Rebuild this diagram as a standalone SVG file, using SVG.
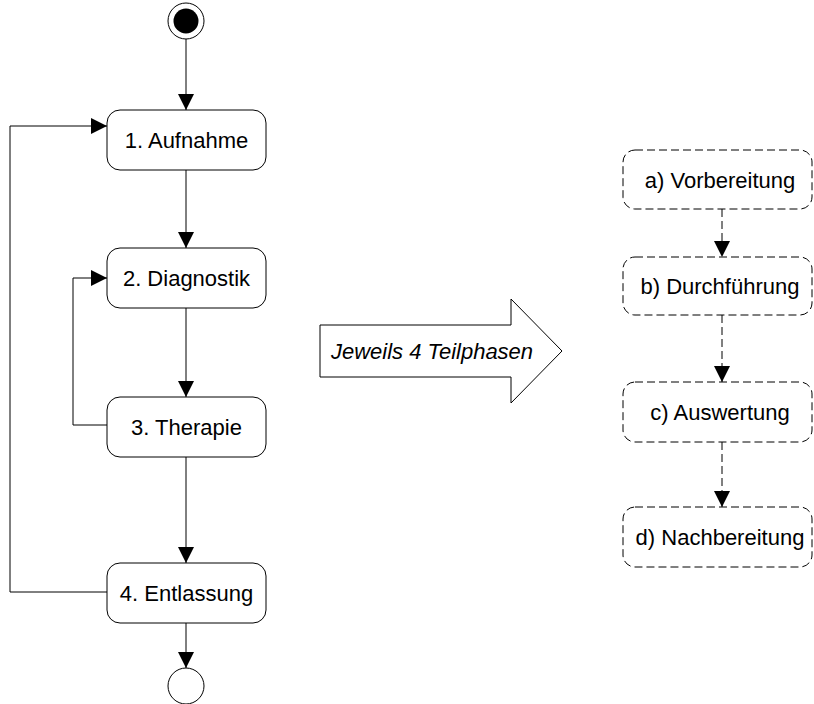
<svg xmlns="http://www.w3.org/2000/svg" width="814" height="704" viewBox="0 0 814 704">
  <defs>
    <marker id="arrow" viewBox="0 0 16 16" refX="16" refY="8" markerWidth="16" markerHeight="16" markerUnits="userSpaceOnUse" orient="auto">
      <path d="M0,0 L16,8 L0,16 Z" fill="#000"/>
    </marker>
    <style>
      .node { fill: #fff; stroke: #000; stroke-width: 1; }
      .phase { fill: #fff; stroke: #000; stroke-width: 1; stroke-dasharray: 8 4; }
      .label { font-family: "Liberation Sans", Arial, sans-serif; font-size: 22px; fill: #000; text-anchor: middle; }
      .edge { fill: none; stroke: #000; stroke-width: 1; marker-end: url(#arrow); }
      .dashed { stroke-dasharray: 8 4; }
    </style>
  </defs>
  <rect width="814" height="704" fill="#fff"/>

  <g id="connectors">
    <path class="edge" d="M186,39 V110"/>
    <path class="edge" d="M186,170 V248"/>
    <path class="edge" d="M186,308 V397"/>
    <path class="edge" d="M186,457 V563"/>
    <path class="edge" d="M186,623 V668"/>
    <path class="edge" d="M107,592 H10 V126 H107"/>
    <path class="edge" d="M107,425 H73 V278 H107"/>
    <path class="edge dashed" d="M722,209 V257"/>
    <path class="edge dashed" d="M722,315 V382"/>
    <path class="edge dashed" d="M722,442 V507"/>
  </g>

  <g id="start">
    <circle cx="186" cy="21" r="18" fill="#fff" stroke="#000"/>
    <circle cx="186" cy="21" r="12.5" fill="#000"/>
  </g>

  <g id="aufnahme">
    <rect class="node" x="107" y="110" width="159" height="60" rx="13"/>
    <text class="label" x="186.5" y="148">1. Aufnahme</text>
  </g>
  <g id="diagnostik">
    <rect class="node" x="107" y="248" width="159" height="60" rx="13"/>
    <text class="label" x="186.5" y="286">2. Diagnostik</text>
  </g>
  <g id="therapie">
    <rect class="node" x="107" y="397" width="159" height="60" rx="13"/>
    <text class="label" x="186.5" y="435">3. Therapie</text>
  </g>
  <g id="entlassung">
    <rect class="node" x="107" y="563" width="159" height="60" rx="13"/>
    <text class="label" x="186.5" y="601">4. Entlassung</text>
  </g>

  <g id="end">
    <circle cx="186" cy="686" r="18" fill="#fff" stroke="#000"/>
  </g>

  <g id="teilphasen">
    <path d="M320,325 H511 V299 L562,351 L511,403 V377 H320 Z" fill="#fff" stroke="#000"/>
    <text class="label" x="432" y="359" font-style="italic">Jeweils 4 Teilphasen</text>
  </g>

  <g id="vorbereitung">
    <rect class="phase" x="623" y="150" width="189" height="59" rx="12"/>
    <text class="label" x="720" y="188">a) Vorbereitung</text>
  </g>
  <g id="durchfuehrung">
    <rect class="phase" x="623" y="257" width="189" height="58" rx="12"/>
    <text class="label" x="720" y="294">b) Durchführung</text>
  </g>
  <g id="auswertung">
    <rect class="phase" x="623" y="382" width="189" height="60" rx="12"/>
    <text class="label" x="720" y="420">c) Auswertung</text>
  </g>
  <g id="nachbereitung">
    <rect class="phase" x="623" y="507" width="189" height="60" rx="12"/>
    <text class="label" x="720" y="545">d) Nachbereitung</text>
  </g>
</svg>
